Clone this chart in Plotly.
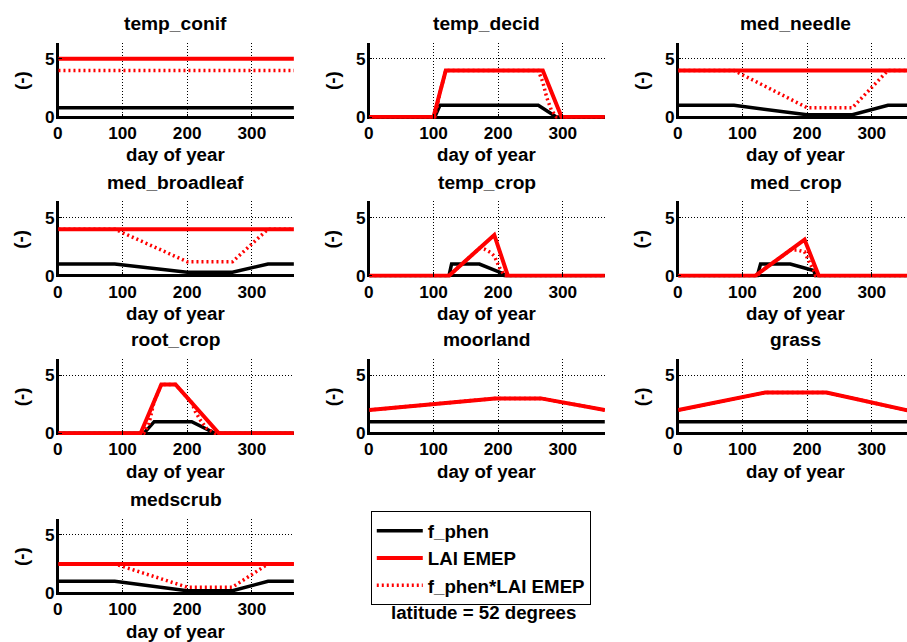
import plotly.graph_objects as go

# ---------------- data ----------------
cover_names = ["temp_conif", "temp_decid", "med_needle", "med_broadleaf", "temp_crop",
               "med_crop", "root_crop", "moorland", "grass", "medscrub"]
x_tick_vals = [0, 100, 200, 300]
y_tick_vals = [0, 5]
legend_names = ["f_phen", "LAI EMEP", "f_phen*LAI EMEP"]
latitude_label = "latitude = 52 degrees"

# temp_conif
temp_conif_fphen_day = [1, 365]
temp_conif_fphen = [0.8, 0.8]
temp_conif_lai_day = [1, 365]
temp_conif_lai = [5.0, 5.0]
temp_conif_prod_day = [1, 365]
temp_conif_prod = [4.0, 4.0]

# temp_decid
temp_decid_fphen_day = [1, 102, 110, 262, 290, 365]
temp_decid_fphen = [0, 0, 1, 1, 0, 0]
temp_decid_lai_day = [1, 100, 119, 269, 298, 365]
temp_decid_lai = [0, 0, 4.0, 4.0, 0, 0]
temp_decid_prod_day = [1, 102, 110, 119, 262, 269, 275, 282, 290, 365]
temp_decid_prod = [0, 0, 2.1, 4.0, 4.0, 3.0, 1.7, 0.63, 0, 0]

# med_needle
med_needle_fphen_day = [1, 87, 200, 270, 325, 365]
med_needle_fphen = [1, 1, 0.2, 0.2, 1, 1]
med_needle_lai_day = [1, 365]
med_needle_lai = [4.0, 4.0]
med_needle_prod_day = [1, 87, 200, 270, 325, 365]
med_needle_prod = [4.0, 4.0, 0.8, 0.8, 4.0, 4.0]

# med_broadleaf
med_broadleaf_fphen_day = [1, 88, 200, 270, 325, 365]
med_broadleaf_fphen = [1, 1, 0.3, 0.3, 1, 1]
med_broadleaf_lai_day = [1, 365]
med_broadleaf_lai = [4.0, 4.0]
med_broadleaf_prod_day = [1, 88, 200, 270, 325, 365]
med_broadleaf_prod = [4.0, 4.0, 1.2, 1.2, 4.0, 4.0]

# temp_crop
temp_crop_fphen_day = [1, 124, 128, 171, 207, 210, 365]
temp_crop_fphen = [0, 0, 1, 1, 0.2, 0, 0]
temp_crop_lai_day = [1, 124, 194, 215, 365]
temp_crop_lai = [0, 0, 3.5, 0, 0]
temp_crop_prod_day = [1, 124, 128, 171, 176, 180, 188, 194, 202, 207, 210, 365]
temp_crop_prod = [0, 0, 0.2, 2.35, 2.3, 2.25, 2.0, 1.7, 0.7, 0.27, 0, 0]

# med_crop
med_crop_fphen_day = [1, 123, 128, 174, 210, 213, 365]
med_crop_fphen = [0, 0, 1, 1, 0.45, 0, 0]
med_crop_lai_day = [1, 120, 196, 218, 365]
med_crop_lai = [0, 0, 3.1, 0, 0]
med_crop_prod_day = [1, 123, 128, 174, 185, 196, 205, 210, 213, 365]
med_crop_prod = [0, 0, 0.33, 2.2, 2.2, 2.05, 0.97, 0.5, 0, 0]

# root_crop
root_crop_fphen_day = [1, 133, 149, 207, 243, 365]
root_crop_fphen = [0, 0, 1, 1, 0, 0]
root_crop_lai_day = [1, 128, 160, 182, 249, 365]
root_crop_lai = [0, 0, 4.2, 4.2, 0, 0]
root_crop_prod_day = [1, 133, 141, 149, 160, 182, 207, 213, 220, 230, 243, 365]
root_crop_prod = [0, 0, 0.85, 2.76, 4.2, 4.2, 2.63, 1.82, 1.16, 0.43, 0, 0]

# moorland
moorland_fphen_day = [1, 365]
moorland_fphen = [1, 1]
moorland_lai_day = [1, 195, 266, 365]
moorland_lai = [2.0, 3.0, 3.0, 2.0]
moorland_prod_day = [1, 195, 266, 365]
moorland_prod = [2.0, 3.0, 3.0, 2.0]

# grass
grass_fphen_day = [1, 365]
grass_fphen = [1, 1]
grass_lai_day = [1, 135, 230, 365]
grass_lai = [2.0, 3.5, 3.5, 1.85]
grass_prod_day = [1, 135, 230, 365]
grass_prod = [2.0, 3.5, 3.5, 1.85]

# medscrub
medscrub_fphen_day = [1, 88, 200, 270, 325, 365]
medscrub_fphen = [1, 1, 0.2, 0.2, 1, 1]
medscrub_lai_day = [1, 365]
medscrub_lai = [2.5, 2.5]
medscrub_prod_day = [1, 88, 200, 270, 325, 365]
medscrub_prod = [2.5, 2.5, 0.5, 0.5, 2.5, 2.5]

series = {
    "temp_conif": (temp_conif_fphen_day, temp_conif_fphen, temp_conif_lai_day, temp_conif_lai, temp_conif_prod_day, temp_conif_prod),
    "temp_decid": (temp_decid_fphen_day, temp_decid_fphen, temp_decid_lai_day, temp_decid_lai, temp_decid_prod_day, temp_decid_prod),
    "med_needle": (med_needle_fphen_day, med_needle_fphen, med_needle_lai_day, med_needle_lai, med_needle_prod_day, med_needle_prod),
    "med_broadleaf": (med_broadleaf_fphen_day, med_broadleaf_fphen, med_broadleaf_lai_day, med_broadleaf_lai, med_broadleaf_prod_day, med_broadleaf_prod),
    "temp_crop": (temp_crop_fphen_day, temp_crop_fphen, temp_crop_lai_day, temp_crop_lai, temp_crop_prod_day, temp_crop_prod),
    "med_crop": (med_crop_fphen_day, med_crop_fphen, med_crop_lai_day, med_crop_lai, med_crop_prod_day, med_crop_prod),
    "root_crop": (root_crop_fphen_day, root_crop_fphen, root_crop_lai_day, root_crop_lai, root_crop_prod_day, root_crop_prod),
    "moorland": (moorland_fphen_day, moorland_fphen, moorland_lai_day, moorland_lai, moorland_prod_day, moorland_prod),
    "grass": (grass_fphen_day, grass_fphen, grass_lai_day, grass_lai, grass_prod_day, grass_prod),
    "medscrub": (medscrub_fphen_day, medscrub_fphen, medscrub_lai_day, medscrub_lai, medscrub_prod_day, medscrub_prod),
}

# ---------------- layout geometry (target picture pixels) ----------------
W, H = 907, 642          # target picture size
FIG_H = 650              # page area that gets photographed
COL_X0 = [55, 367, 677]          # pixel of day 0
PX_PER_DAY = 0.649
FULL_DAYS = 365
ROW_Y0 = [117, 275.7, 433.3, 593]  # pixel of value 0
PX_PER_UNIT = 11.64
Y_RANGE = [-0.15, 6.4]
X_MIN = -2.0

FONT = "Liberation Sans, Arial, Helvetica, sans-serif"
TICK_SIZE = 17.2
TITLE_SIZE = 19.2
LABEL_SIZE = 18.7
LEG_SIZE = 18.7


def px(x):
    return x / W


def py(y):
    return 1 - y / H


fig = go.Figure()
annotations = []
layout_axes = {}

for i, name in enumerate(cover_names):
    r, c = divmod(i, 3)
    x0 = COL_X0[c]
    y0 = ROW_Y0[r]
    left = x0 + X_MIN * PX_PER_DAY
    right = min(x0 + FULL_DAYS * PX_PER_DAY, W)
    xmax = (right - x0) / PX_PER_DAY
    bottom = y0 - Y_RANGE[0] * PX_PER_UNIT
    top = y0 - Y_RANGE[1] * PX_PER_UNIT
    k = "" if i == 0 else str(i + 1)
    xa, ya = "x" + k, "y" + k

    fd, fv, ld, lv, pd_, pv = series[name]
    show = i == 0
    fig.add_trace(go.Scatter(x=fd, y=fv, mode="lines", name=legend_names[0],
                             line=dict(color="black", width=3.5), xaxis=xa, yaxis=ya,
                             showlegend=show, hoverinfo="skip"))
    fig.add_trace(go.Scatter(x=ld, y=lv, mode="lines", name=legend_names[1],
                             line=dict(color="#ff0000", width=4), xaxis=xa, yaxis=ya,
                             showlegend=show, hoverinfo="skip"))
    fig.add_trace(go.Scatter(x=pd_, y=pv, mode="lines", name=legend_names[2],
                             line=dict(color="#ff0000", width=3.5, dash="2px,3px"),
                             xaxis=xa, yaxis=ya, showlegend=show, hoverinfo="skip"))

    layout_axes["xaxis" + k] = dict(
        domain=[px(left), px(right)], range=[X_MIN, xmax], anchor=ya,
        tickvals=x_tick_vals, ticktext=[str(v) for v in x_tick_vals],
        showgrid=True, gridcolor="black", gridwidth=1, griddash="1px,2px",
        zeroline=True, zerolinecolor="black", zerolinewidth=3,
        showline=False, ticks="inside", ticklen=5, tickwidth=1, tickcolor="black",
        tickfont=dict(family=FONT, size=TICK_SIZE, color="black", weight="bold"),
        ticklabelstandoff=2, fixedrange=True,
    )
    layout_axes["yaxis" + k] = dict(
        domain=[py(bottom), py(top)], range=Y_RANGE, anchor=xa,
        tickvals=y_tick_vals, ticktext=[str(v) for v in y_tick_vals],
        showgrid=True, gridcolor="black", gridwidth=1, griddash="1px,2px",
        zeroline=True, zerolinecolor="black", zerolinewidth=3,
        showline=False, ticks="inside", ticklen=5, tickwidth=1, tickcolor="black",
        tickfont=dict(family=FONT, size=TICK_SIZE, color="black", weight="bold"),
        ticklabelstandoff=1, fixedrange=True,
    )

    # full (unclipped) axis centre for titles
    cx = x0 + FULL_DAYS * PX_PER_DAY / 2
    annotations.append(dict(text=name, x=px(cx), y=py(y0 - 74.5 - 19), xref="paper", yref="paper",
                            xanchor="center", yanchor="middle", showarrow=False,
                            font=dict(family=FONT, size=TITLE_SIZE, color="black", weight="bold")))
    annotations.append(dict(text="day of year", x=px(cx), y=py(y0 + 38), xref="paper", yref="paper",
                            xanchor="center", yanchor="middle", showarrow=False,
                            font=dict(family=FONT, size=LABEL_SIZE, color="black", weight="bold")))
    annotations.append(dict(text="(-)", x=px(x0 - 37), y=py(y0 - 37), xref="paper", yref="paper",
                            xanchor="center", yanchor="middle", showarrow=False, textangle=-90,
                            font=dict(family=FONT, size=LABEL_SIZE, color="black", weight="bold")))

annotations.append(dict(text=latitude_label, x=px(482), y=py(612), xref="paper", yref="paper",
                        xanchor="center", yanchor="middle", showarrow=False,
                        font=dict(family=FONT, size=LABEL_SIZE, color="black", weight="bold")))

fig.update_layout(
    width=W, height=FIG_H,
    margin=dict(l=0, r=0, t=0, b=0),
    paper_bgcolor="white", plot_bgcolor="white",
    annotations=annotations,
    legend=dict(x=px(369), y=py(511), xanchor="left", yanchor="top",
                bgcolor="white", bordercolor="black", borderwidth=1,
                font=dict(family=FONT, size=LEG_SIZE, color="black", weight="bold"),
                itemwidth=46, tracegroupgap=0),
    **layout_axes,
)

page_js = (
    "var b=document.body;"
    "b.style.margin='0';b.style.padding='0';"
    "document.documentElement.style.overflow='hidden';b.style.overflow='hidden';"
)
fig.write_html("out.html", config={"displayModeBar": False}, post_script=page_js)
